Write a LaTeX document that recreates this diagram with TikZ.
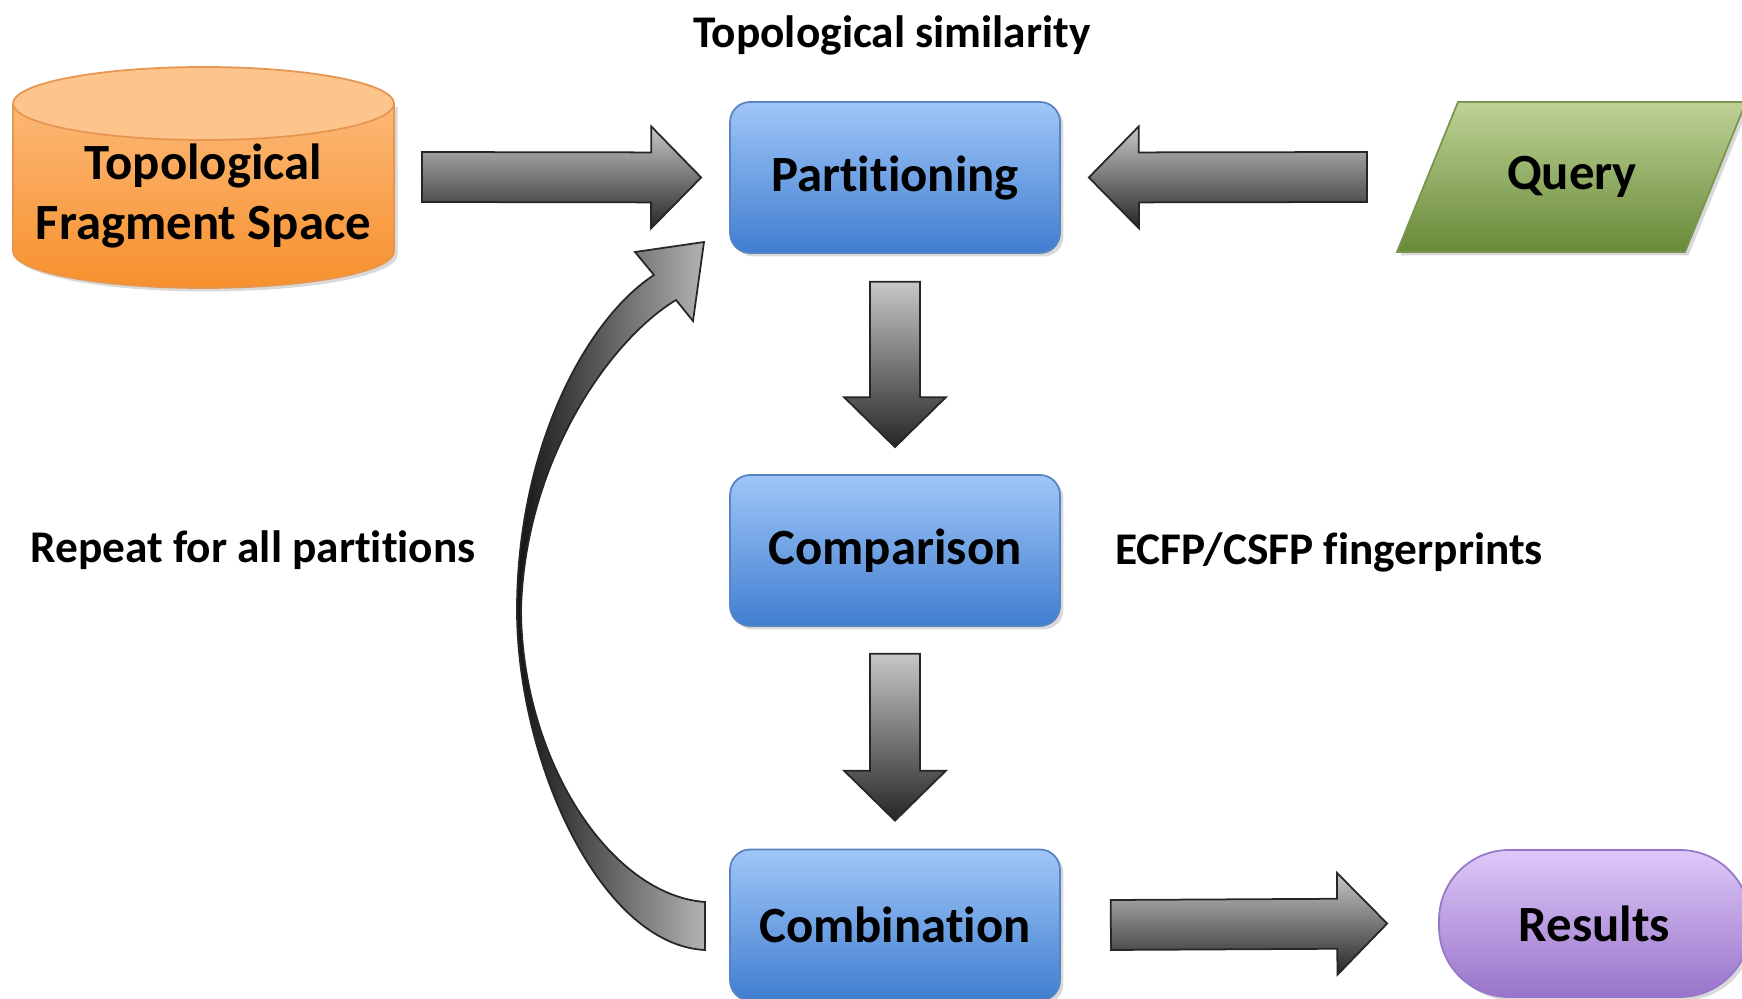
\documentclass[tikz,border=0pt]{standalone}
\usepackage{fontspec}
\setmainfont{Carlito}[Ligatures=NoCommon]
\usepackage{tikz}
\usetikzlibrary{calc, shadows}

\definecolor{proctop}{RGB}{160,198,248}
\definecolor{procbot}{RGB}{64,126,208}
\definecolor{procline}{RGB}{88,132,196}
\definecolor{spacetop}{RGB}{253,196,140}
\definecolor{spacemid}{RGB}{252,184,118}
\definecolor{spacebot}{RGB}{247,144,45}
\definecolor{spaceline}{RGB}{230,150,80}
\definecolor{querytop}{RGB}{190,210,150}
\definecolor{querybot}{RGB}{104,138,56}
\definecolor{queryline}{RGB}{120,150,80}
\definecolor{resulttop}{RGB}{222,200,248}
\definecolor{resultbot}{RGB}{152,116,202}
\definecolor{resultline}{RGB}{150,120,200}

% fat arrow from #1 to #2 (tip at #2)
\newcommand{\blockarrow}[2]{%
  \coordinate (headbase) at ($(#2)!1cm!(#1)$);
  \draw[arrowbody] ($(#1)!.5cm!90:(#2)$) -- ($(headbase)!.5cm!90:(#2)$)
    -- ($(headbase)!1.02cm!90:(#2)$) -- (#2)
    -- ($(headbase)!1.02cm!-90:(#2)$) -- ($(headbase)!.5cm!-90:(#2)$)
    -- ($(#1)!.5cm!-90:(#2)$) -- cycle;
}

\begin{document}
\begin{tikzpicture}[x=0.02cm, y=0.02cm,
    shade/.style={drop shadow={opacity=.3, shadow xshift=.07cm, shadow yshift=-.07cm}},
    procbox/.style={rectangle, draw=procline, line width=1pt, top color=proctop, bottom color=procbot, rounded corners=0.4cm, minimum width=6.6cm, minimum height=3.02cm, font=\fontsize{28.9}{34}\selectfont\bfseries, shade},
    resultbox/.style={rectangle, draw=resultline, line width=1pt, top color=resulttop, bottom color=resultbot, rounded corners=1.4cm, minimum width=6.22cm, minimum height=2.94cm, font=\fontsize{28.9}{34}\selectfont\bfseries, shade},
    boxtext/.style={font=\fontsize{28.9}{34}\selectfont\bfseries, align=center, inner sep=0pt},
    lbl/.style={font=\fontsize{25.8}{30}\selectfont\bfseries, inner sep=0pt},
    arrowbody/.style={draw=black!85, line width=1pt, top color=black!22, bottom color=black!85},
    loopbody/.style={draw=black!85, line width=1pt, left color=black!92, right color=black!30}
]
    \useasboundingbox (0,0) rectangle (1742,-999);

    % input cylinder
    \draw[draw=spaceline, line width=1pt, top color=spacemid, bottom color=spacebot, shade]
        (13,-103.5) -- (13,-251.5) arc[start angle=180, end angle=360, x radius=190.5, y radius=36.5] -- (394,-103.5) -- cycle;
    \draw[draw=spaceline, line width=1pt, fill=spacetop] (203.5,-103.5) ellipse[x radius=190.5, y radius=36.5];
    \node[boxtext] (space) at (203.5,-196) {Topological\\Fragment Space};
    \coordinate (spaceE) at (394,-177);

    % query
    \draw[draw=queryline, line width=1pt, top color=querytop, bottom color=querybot, shade]
        (1397,-252) -- (1458,-102) -- (1746,-102) -- (1685,-252) -- cycle;
    \node[boxtext] (query) at (1572,-177) {Query};
    \coordinate (queryW) at (1427,-177);

    % steps
    \node[procbox] (part) at (895,-177.5) {Partitioning};
    \node[procbox] (comp) at (895,-550.5) {Comparison};
    \node[procbox] (comb) at (895,-925) {Combination};
    \node[resultbox] (res) at (1594.5,-923.5) {Results};

    \node[lbl] (simlbl) at (892,-35) {Topological similarity};
    \node[lbl, anchor=west] (replbl) at (30,-550) {Repeat for all partitions};
    \node[lbl, anchor=west] (fplbl) at (1115,-552) {ECFP/CSFP fingerprints};

    % block arrows
    \coordinate (a1s) at ($(spaceE)+(28,0)$);
    \coordinate (a1e) at ($(part.west)+(-28,0)$);
    \blockarrow{a1s}{a1e}
    \coordinate (a2s) at ($(queryW)+(-60,0)$);
    \coordinate (a2e) at ($(part.east)+(28,0)$);
    \blockarrow{a2s}{a2e}
    \coordinate (a3s) at ($(part.south)+(0,-28)$);
    \coordinate (a3e) at ($(comp.north)+(0,27)$);
    \blockarrow{a3s}{a3e}
    \coordinate (a4s) at ($(comp.south)+(0,-27)$);
    \coordinate (a4e) at ($(comb.north)+(0,28)$);
    \blockarrow{a4s}{a4e}
    \coordinate (a5s) at ($(comb.east)+(50,0)$);
    \coordinate (a5e) at ($(res.west)+(-51,0)$);
    \blockarrow{a5s}{a5e}

    % loop back from combination to partitioning
    \draw[loopbody] (705,-950) .. controls (600,-945) and (517,-760) .. (517,-610)
        .. controls (517,-450) and (585,-320) .. (654,-275)
        -- (635,-252) -- (704,-242) -- (693,-321) -- (676,-300)
        .. controls (610,-340) and (525,-460) .. (521,-610)
        .. controls (522,-760) and (610,-895) .. (705,-902) -- cycle;
\end{tikzpicture}
\end{document}
